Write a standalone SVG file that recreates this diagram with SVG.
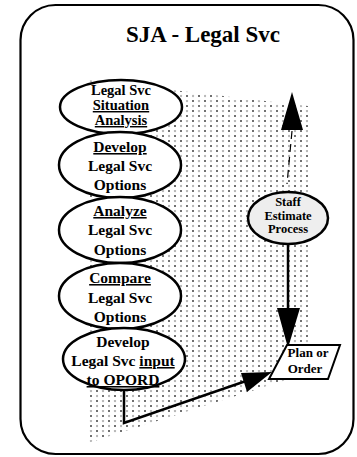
<svg xmlns="http://www.w3.org/2000/svg" width="357" height="457" viewBox="0 0 357 457">
  <style>
    .frame { fill: #ffffff; stroke: #000; stroke-width: 2.2; }
    .oval { fill: #ffffff; stroke: #000; stroke-width: 2.5; }
    .oval-gray { fill: #eeeeee; stroke: #000; stroke-width: 2.5; }
    .t { font-family: "Liberation Serif", "Times New Roman", serif; font-weight: bold; fill: #000; text-anchor: middle; }
    .title { font-size: 23px; }
    .big { font-size: 15.5px; }
    .mid { font-size: 14.5px; }
    .small { font-size: 13px; }
    .tiny { font-size: 12.5px; }
    .u { text-decoration: underline; }
    .line { fill: none; stroke: #000; stroke-width: 2.5; }
    .dash { fill: none; stroke: #000; stroke-width: 1.2; stroke-dasharray: 8 5; }
    .head { fill: #000; stroke: none; }
  </style>
  <defs>
    <pattern id="stipple" width="12" height="10" patternUnits="userSpaceOnUse">
      <rect x="0" y="0" width="2" height="2" fill="#707070"/>
      <rect x="6" y="5" width="2" height="2" fill="#707070"/>
      <circle cx="7" cy="1" r="1.2" fill="#b8b8b8"/>
      <circle cx="1" cy="6" r="1.2" fill="#b8b8b8"/>
    </pattern>
  </defs>

  <!-- outer frame -->
  <rect class="frame" x="20.5" y="5" width="333" height="449" rx="35" ry="35"/>
  <text class="t title" x="203" y="42">SJA - Legal Svc</text>

  <!-- shaded band behind the process -->
  <polygon points="88,80 308,106 308,373 88,443" fill="url(#stipple)"/>

  <!-- connectors -->
  <g id="connectors">
    <polygon class="head" points="292,92 281,130 303,130"/>
    <path class="dash" d="M292,131 L287,184"/>
    <path class="line" d="M288,244 L288,312"/>
    <polygon class="head" points="277,308 300,308 288,348"/>
    <path class="line" d="M124,390 L124,423 L246,381"/>
    <polygon class="head" points="241,373 247,392 272,372"/>
  </g>

  <g id="situation">
    <ellipse class="oval" cx="121" cy="107" rx="61" ry="27"/>
    <text class="t mid" x="121" y="95">Legal Svc</text>
    <text class="t mid u" x="121" y="110">Situation</text>
    <text class="t mid u" x="121" y="125">Analysis</text>
  </g>

  <g id="develop">
    <ellipse class="oval" cx="120" cy="165" rx="61" ry="33"/>
    <text class="t big u" x="120" y="152">Develop</text>
    <text class="t big" x="120" y="171">Legal Svc</text>
    <text class="t big" x="120" y="190">Options</text>
  </g>

  <g id="analyze">
    <ellipse class="oval" cx="120" cy="230" rx="61" ry="33"/>
    <text class="t big u" x="120" y="216">Analyze</text>
    <text class="t big" x="120" y="235">Legal Svc</text>
    <text class="t big" x="120" y="255">Options</text>
  </g>

  <g id="compare">
    <ellipse class="oval" cx="120" cy="296" rx="61" ry="33"/>
    <text class="t big u" x="120" y="283">Compare</text>
    <text class="t big" x="120" y="303">Legal Svc</text>
    <text class="t big" x="120" y="322">Options</text>
  </g>

  <g id="opord-input">
    <ellipse class="oval" cx="124" cy="359" rx="61" ry="31"/>
    <text class="t big" x="123" y="347">Develop</text>
    <text class="t big" x="123" y="366">Legal Svc <tspan class="u">input</tspan></text>
    <text class="t big u" x="123" y="385">to OPORD</text>
  </g>

  <g id="staff-estimate">
    <ellipse class="oval-gray" cx="288" cy="218" rx="40" ry="26"/>
    <text class="t tiny" x="288" y="206">Staff</text>
    <text class="t tiny" x="288" y="219.5">Estimate</text>
    <text class="t tiny" x="288" y="233">Process</text>
  </g>

  <g id="plan-order">
    <polygon class="oval" points="287,345 340,345 328,379 269,379" style="stroke-width:2"/>
    <text class="t small" x="308" y="357">Plan or</text>
    <text class="t small" x="305" y="373">Order</text>
  </g>
</svg>
